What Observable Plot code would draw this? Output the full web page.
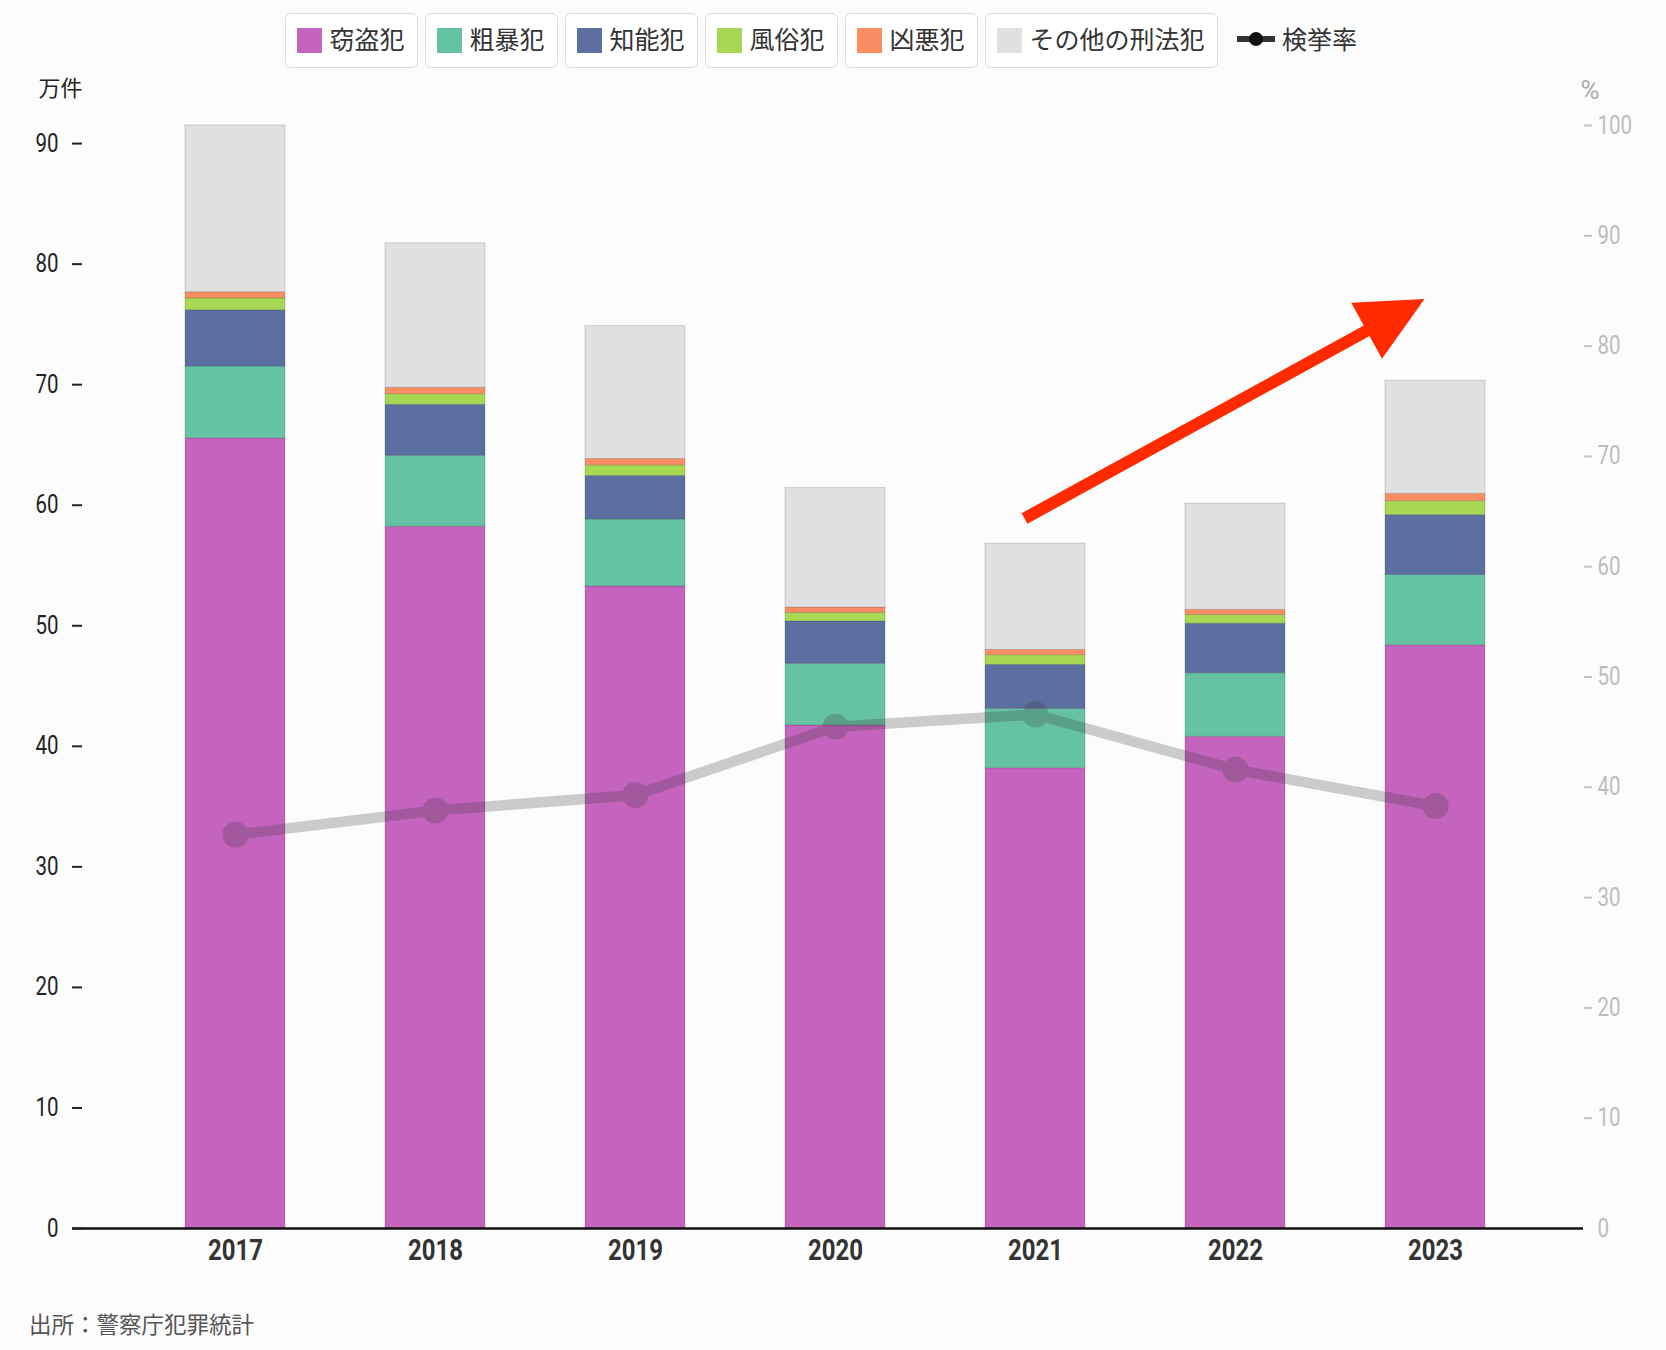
<!DOCTYPE html>
<html><head><meta charset="utf-8">
<script src="https://cdn.jsdelivr.net/npm/d3@7"></script>
<script src="https://cdn.jsdelivr.net/npm/@observablehq/plot@0.6"></script>
<style>
body{margin:0;background:#fcfcfc;width:1666px;font-family:"Noto Sans CJK JP",sans-serif;}
#legend{height:70px;box-sizing:border-box;padding:13px 0 0 285px;display:flex;align-items:flex-start;}
.item{display:flex;align-items:center;height:55px;box-sizing:border-box;border:1.5px solid #dcdcdc;border-radius:6px;background:#fff;padding:0 12.5px 0 10.5px;margin-right:7px;font-size:25px;color:#333;white-space:nowrap;}
.item span,.rate span{line-height:1;position:relative;top:-2px;}
.sw{width:25px;height:25px;margin-right:8px;flex:none;}
.rate{display:flex;align-items:center;height:55px;margin-left:12px;font-size:25px;color:#333;white-space:nowrap;}
.rate svg{margin-right:7px;position:relative;top:-2px;}
#chart svg{display:block;}
#caption{padding:20px 0 0 29px;font-size:22.5px;color:#555;line-height:30px;}
</style></head><body>
<div id="legend"></div>
<div id="chart"></div>
<div id="caption">出所：警察庁犯罪統計</div>
<script>
// ---- data (万件, %) ----
const years = ["2017", "2018", "2019", "2020", "2021", "2022", "2023"];
const categories = ["窃盗犯", "粗暴犯", "知能犯", "風俗犯", "凶悪犯", "その他の刑法犯"];
const colors = ["#c564be", "#66c2a5", "#5c6fa1", "#a6d854", "#fc8d62", "#e0e0e0"];
const theft     = [65.55, 58.21, 53.26, 41.73, 38.18, 40.79, 48.37];
const violent   = [5.95, 5.89, 5.56, 5.11, 4.93, 5.27, 5.84];
const fraud     = [4.68, 4.23, 3.61, 3.52, 3.65, 4.11, 4.97];
const morals    = [0.97, 0.88, 0.88, 0.71, 0.80, 0.72, 1.16];
const heinous   = [0.52, 0.53, 0.53, 0.44, 0.44, 0.43, 0.60];
const other     = [13.83, 11.99, 11.02, 9.91, 8.81, 8.81, 9.39];
const clearanceRate = [35.7, 37.9, 39.3, 45.5, 46.6, 41.6, 38.3];
const rateLabel = "検挙率";
const leftTicks = [0, 10, 20, 30, 40, 50, 60, 70, 80, 90];
const rightTicks = [0, 10, 20, 30, 40, 50, 60, 70, 80, 90, 100];
// trend arrow annotation (from year/value to year/value, 万件 scale)
const arrowFrom = {year: "2021", value: 58.9};
const arrowTo = {year: "2023", value: 77.1};

// ---- tables ----
const series = [theft, violent, fraud, morals, heinous, other];
const rows = [];
years.forEach((y, i) => categories.forEach((c, j) => rows.push({year: y, cat: c, value: series[j][i]})));
const totals = years.map((y, i) => d3.sum(series, s => s[i]));
const maxTotal = d3.max(totals);
const toLeft = p => p * maxTotal / 100;
const rateRows = years.map((y, i) => ({year: y, rate: clearanceRate[i]}));
const arrowRows = [{x1: arrowFrom.year, y1: arrowFrom.value, x2: arrowTo.year, y2: arrowTo.value}];

// ---- legend ----
const legend = d3.select("#legend");
categories.forEach((c, j) => {
  const it = legend.append("div").attr("class", "item");
  it.append("div").attr("class", "sw").style("background", colors[j]);
  it.append("span").text(c);
});
const rl = legend.append("div").attr("class", "rate");
const rs = rl.append("svg").attr("width", 38).attr("height", 20);
rs.append("line").attr("x1", 0).attr("x2", 38).attr("y1", 10).attr("y2", 10).attr("stroke", "#333").attr("stroke-width", 6);
rs.append("circle").attr("cx", 19).attr("cy", 10).attr("r", 7).attr("fill", "#111");
rl.append("span").text(rateLabel);

// ---- arrow head symbol (tip at origin, pointing up) ----
const headSymbol = {
  draw(ctx) {
    ctx.moveTo(0, 0);
    ctx.lineTo(-32, 66);
    ctx.lineTo(32, 66);
    ctx.closePath();
  }
};

const chart = Plot.plot({
  width: 1666,
  height: 1218,
  marginTop: 55,
  marginBottom: 60,
  marginLeft: 72,
  marginRight: 83,
  style: {background: "transparent", fontFamily: "Roboto, 'Noto Sans CJK JP', sans-serif"},
  x: {type: "band", domain: years, range: [82.7, 1587.7], padding: 0.5, label: null},
  y: {domain: [0, maxTotal], label: null},
  color: {domain: categories, range: colors},
  marks: [
    Plot.barY(rows, {x: "year", y: "value", fill: "cat", stroke: "#000", strokeOpacity: 0.15, strokeWidth: 1}),
    Plot.ruleY([0], {stroke: "#111", strokeWidth: 2.5}),
    Plot.axisY(leftTicks, {anchor: "left", tickSize: 10, tickPadding: 14, dx: 10, fontSize: 25, color: "#222", strokeWidth: 2, label: null}),
    Plot.axisY(rightTicks.slice(1).map(toLeft), {anchor: "right", tickSize: 8, tickFormat: () => "", color: "#c4c4c4", strokeWidth: 2, label: null}),
    Plot.axisY(rightTicks.map(toLeft), {anchor: "right", tickSize: 0, tickPadding: 14, tickFormat: d => Math.round(d * 100 / maxTotal), fontSize: 25, color: "#bdbdbd", label: null}),
    Plot.axisX(years, {tickSize: 0, tickPadding: 10, fontSize: 30, fontWeight: "bold", color: "#333", label: null}),
    Plot.text(["万件"], {text: d => d, frameAnchor: "top-left", dx: -34, dy: -45.5, textAnchor: "start", fontSize: 22, fill: "#222", fontFamily: "'Noto Sans CJK JP'"}),
    Plot.text(["%"], {text: d => d, frameAnchor: "top-right", dx: -3, dy: -45, textAnchor: "start", fontSize: 26, fill: "#aaa"}),
    Plot.line(rateRows, {x: "year", y: d => toLeft(d.rate), stroke: "#333", strokeWidth: 10.5}),
    Plot.dot(rateRows, {x: "year", y: d => toLeft(d.rate), r: 13, fill: "#333"}),
    Plot.arrow(arrowRows, {x1: "x1", y1: "y1", x2: "x2", y2: "y2", bend: 0, headLength: 0, insetEnd: 40, stroke: "#ff2a00", strokeWidth: 12, strokeLinecap: "butt", dx: -11}),
    Plot.dot(arrowRows, {x: "x2", y: "y2", dx: -11, symbol: headSymbol, r: 10, fill: "#ff2a00", rotate: 61.3})
  ]
});
document.getElementById("chart").appendChild(chart);

// group opacity for the rate line + dots (so overlaps don't darken)
const svgEl = chart.tagName.toLowerCase() === "svg" ? chart : chart.querySelector("svg");
const lineG = svgEl.querySelector('g[aria-label="line"]');
const dotG = svgEl.querySelector('g[aria-label="dot"]');
if (lineG && dotG) {
  const wrap = document.createElementNS("http://www.w3.org/2000/svg", "g");
  wrap.setAttribute("opacity", 0.24);
  lineG.parentNode.insertBefore(wrap, lineG);
  wrap.appendChild(lineG);
  wrap.appendChild(dotG);
}
// condensed look for numeric tick labels (only horizontal scaling; keep em offsets)
function condense(sel, k) {
  svgEl.querySelectorAll(sel).forEach(t => {
    const tr = t.getAttribute("transform") || "";
    const xa = t.getAttribute("x");
    let pre = "";
    if (xa != null && isFinite(+xa) && +xa !== 0) { pre = ` translate(${+xa},0)`; t.removeAttribute("x"); }
    t.setAttribute("transform", `${tr}${pre} scale(${k},1)`);
  });
}
condense('g[aria-label="y-axis tick label"] text', 0.82);
condense('g[aria-label="x-axis tick label"] text', 0.8);
</script>
</body></html>
